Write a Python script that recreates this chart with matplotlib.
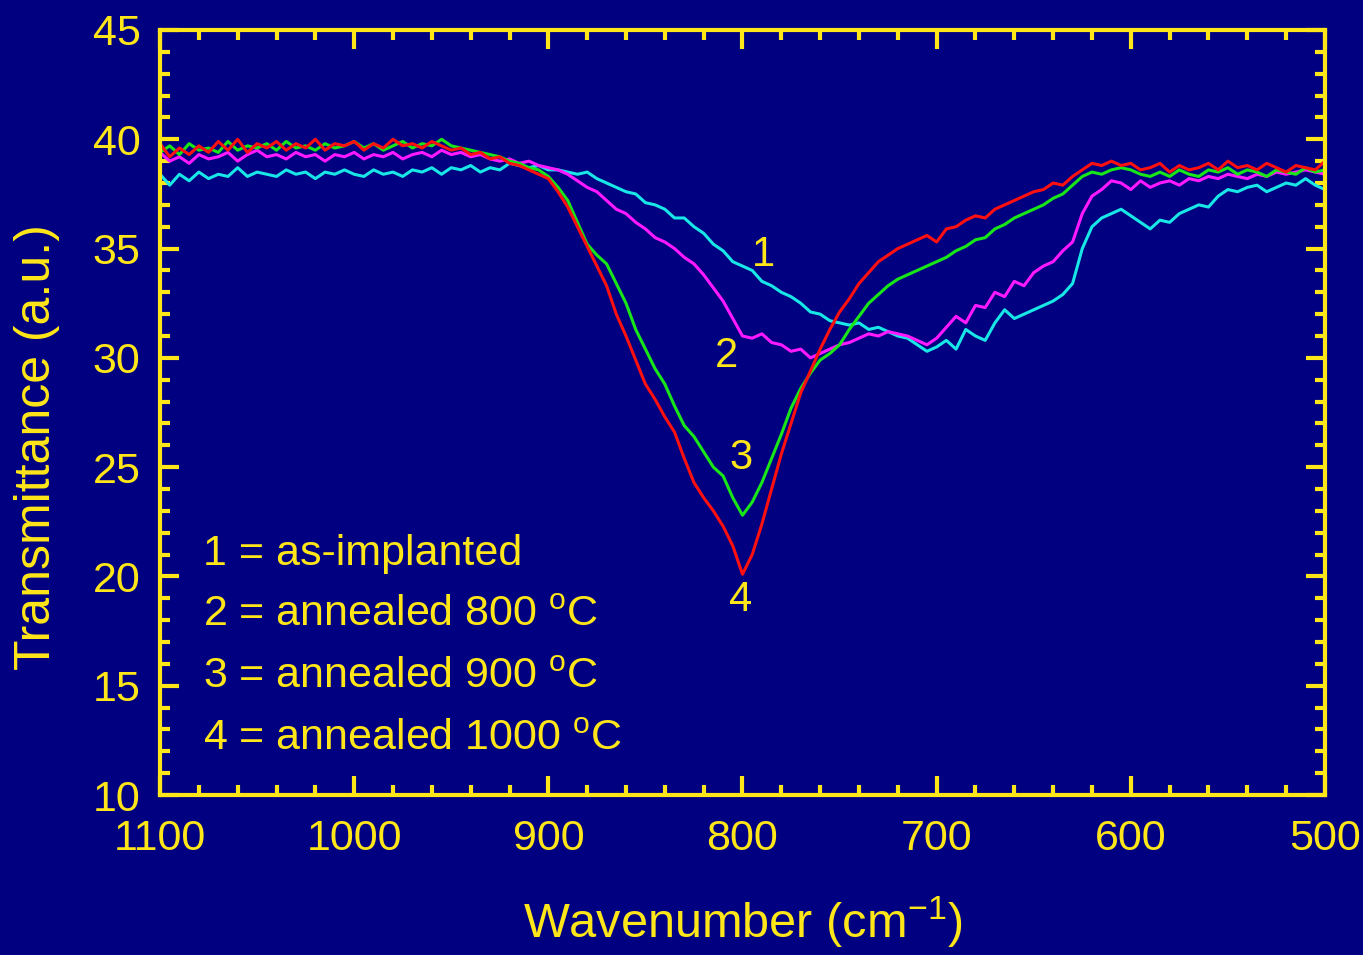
import numpy as np
import matplotlib
matplotlib.use("Agg")
import matplotlib.pyplot as plt
from matplotlib.ticker import MultipleLocator

plt.rcParams['font.family'] = ['Liberation Sans', 'DejaVu Sans']
plt.rcParams['mathtext.fontset'] = 'custom'
plt.rcParams['mathtext.rm'] = 'Liberation Sans'
plt.rcParams['mathtext.it'] = 'Liberation Sans'

# wavenumber grid (cm^-1), 1100 -> 500 in steps of 5
wavenumber = np.arange(1100, 499, -5)

# 1 = as-implanted
t_asimpl = [38.4, 37.9, 38.4, 38.1, 38.5, 38.2, 38.4, 38.3, 38.7, 38.3,
            38.5, 38.4, 38.3, 38.6, 38.4, 38.5, 38.2, 38.5, 38.4, 38.6,
            38.4, 38.3, 38.6, 38.4, 38.5, 38.3, 38.6, 38.5, 38.7, 38.4,
            38.7, 38.6, 38.8, 38.5, 38.7, 38.6, 38.9, 38.8, 38.7, 38.8,
            38.6, 38.6, 38.5, 38.4, 38.5, 38.2, 38.0, 37.8, 37.6, 37.5,
            37.1, 37.0, 36.8, 36.4, 36.4, 36.0, 35.7, 35.2, 34.9, 34.4,
            34.2, 34.0, 33.5, 33.3, 33.0, 32.8, 32.5, 32.1, 32.0, 31.7,
            31.6, 31.5, 31.6, 31.3, 31.4, 31.2, 31.0, 30.9, 30.6, 30.3,
            30.5, 30.8, 30.4, 31.3, 31.0, 30.8, 31.6, 32.2, 31.8, 32.0,
            32.2, 32.4, 32.6, 32.9, 33.4, 35.0, 36.0, 36.4, 36.6, 36.8,
            36.5, 36.2, 35.9, 36.3, 36.2, 36.6, 36.8, 37.0, 36.9, 37.4,
            37.7, 37.6, 37.8, 37.9, 37.6, 37.8, 38.0, 37.9, 38.2, 37.9,
            37.7]

# 2 = annealed 800 C
t_800 = [39.4, 39.0, 39.2, 38.9, 39.3, 39.1, 39.2, 39.4, 39.0, 39.3,
         39.5, 39.2, 39.3, 39.1, 39.4, 39.2, 39.3, 39.0, 39.3, 39.2,
         39.4, 39.1, 39.3, 39.2, 39.4, 39.1, 39.3, 39.4, 39.2, 39.5,
         39.3, 39.4, 39.2, 39.3, 39.1, 39.0, 39.1, 38.9, 39.0, 38.8,
         38.7, 38.6, 38.4, 38.1, 37.8, 37.6, 37.2, 36.8, 36.6, 36.2,
         35.9, 35.5, 35.3, 35.0, 34.6, 34.3, 33.8, 33.2, 32.6, 31.8,
         31.0, 30.9, 31.1, 30.7, 30.6, 30.3, 30.4, 30.0, 30.2, 30.4,
         30.6, 30.7, 30.9, 31.1, 31.0, 31.2, 31.1, 31.0, 30.8, 30.6,
         30.9, 31.4, 31.9, 31.6, 32.4, 32.3, 33.0, 32.8, 33.5, 33.3,
         33.9, 34.2, 34.4, 34.9, 35.3, 36.6, 37.4, 37.7, 38.1, 38.0,
         37.7, 38.1, 37.8, 38.0, 38.1, 37.9, 38.2, 38.1, 38.3, 38.2,
         38.4, 38.3, 38.2, 38.4, 38.3, 38.5, 38.4, 38.5, 38.6, 38.5,
         38.4]

# 3 = annealed 900 C
t_900 = [39.4, 39.7, 39.3, 39.8, 39.5, 39.6, 39.4, 39.9, 39.5, 39.7,
         39.6, 39.8, 39.5, 39.9, 39.6, 39.7, 39.5, 39.8, 39.6, 39.7,
         39.9, 39.6, 39.8, 39.5, 39.7, 39.9, 39.6, 39.8, 39.7, 40.0,
         39.7, 39.6, 39.5, 39.4, 39.3, 39.2, 39.0, 38.9, 38.7, 38.6,
         38.3, 37.8, 37.2, 36.2, 35.2, 34.7, 34.3, 33.4, 32.5, 31.3,
         30.4, 29.5, 28.8, 27.8, 26.9, 26.4, 25.7, 25.0, 24.6, 23.6,
         22.8, 23.4, 24.3, 25.4, 26.5, 27.7, 28.6, 29.3, 29.9, 30.2,
         30.6, 31.3, 31.9, 32.5, 32.9, 33.3, 33.6, 33.8, 34.0, 34.2,
         34.4, 34.6, 34.9, 35.1, 35.4, 35.5, 35.9, 36.1, 36.4, 36.6,
         36.8, 37.0, 37.3, 37.5, 37.9, 38.3, 38.5, 38.4, 38.6, 38.7,
         38.6, 38.4, 38.3, 38.5, 38.3, 38.6, 38.4, 38.3, 38.6, 38.5,
         38.7, 38.4, 38.6, 38.5, 38.3, 38.6, 38.5, 38.4, 38.7, 38.5,
         38.6]

# 4 = annealed 1000 C
t_1000 = [39.8, 39.2, 39.6, 39.3, 39.7, 39.4, 39.9, 39.5, 40.0, 39.4,
          39.8, 39.6, 39.9, 39.5, 39.8, 39.6, 40.0, 39.5, 39.8, 39.7,
          39.9, 39.5, 39.8, 39.6, 40.0, 39.7, 39.8, 39.6, 39.9, 39.7,
          39.5, 39.6, 39.3, 39.4, 39.1, 39.2, 38.9, 38.8, 38.6, 38.4,
          38.2, 37.6, 36.9, 36.0, 35.1, 34.2, 33.3, 32.0, 31.0, 29.9,
          28.8, 28.1, 27.3, 26.6, 25.4, 24.3, 23.6, 23.0, 22.3, 21.4,
          20.1, 21.0, 22.4, 24.0, 25.6, 27.0, 28.4, 29.4, 30.4, 31.3,
          32.1, 32.7, 33.4, 33.9, 34.4, 34.7, 35.0, 35.2, 35.4, 35.6,
          35.3, 35.9, 36.0, 36.3, 36.5, 36.4, 36.8, 37.0, 37.2, 37.4,
          37.6, 37.7, 38.0, 37.9, 38.3, 38.6, 38.9, 38.8, 39.0, 38.8,
          38.9, 38.6, 38.7, 38.9, 38.5, 38.8, 38.6, 38.7, 38.9, 38.6,
          39.0, 38.7, 38.8, 38.6, 38.9, 38.7, 38.5, 38.8, 38.7, 38.6,
          39.0]

series = [t_asimpl, t_800, t_900, t_1000]
colors = ['#19E6E6', '#FF19FF', '#19E619', '#FF1010']
curve_labels = ['1', '2', '3', '4']
label_pos = [(789, 34.7), (808, 30.1), (801, 25.4), (801, 18.9)]
legend_lines = ['1 = as-implanted',
                '2 = annealed 800 $^{\\mathrm{o}}$C',
                '3 = annealed 900 $^{\\mathrm{o}}$C',
                '4 = annealed 1000 $^{\\mathrm{o}}$C']

bg = '#000080'
yel = '#FFE619'

fig = plt.figure(figsize=(13.63, 9.55), dpi=100, facecolor=bg)
ax = fig.add_axes([0.1174, 0.1675, 0.8547, 0.8011])
ax.set_facecolor(bg)

for y, c in zip(series, colors):
    ax.plot(wavenumber, y, color=c, lw=2.2)

for t, (xp, yp) in zip(curve_labels, label_pos):
    ax.text(xp, yp, t, color=yel, fontsize=30, ha='center', va='center')

for i, s in enumerate(legend_lines):
    ax.text(1078, 21.05 - 2.83 * i, s, color=yel, fontsize=31, ha='left', va='center')

ax.set_xlim(1100, 500)
ax.set_ylim(10, 45)
ax.xaxis.set_major_locator(MultipleLocator(100))
ax.xaxis.set_minor_locator(MultipleLocator(20))
ax.yaxis.set_major_locator(MultipleLocator(5))
ax.yaxis.set_minor_locator(MultipleLocator(1))

for sp in ax.spines.values():
    sp.set_color(yel)
    sp.set_linewidth(3)
ax.tick_params(which='both', direction='in', top=True, right=True, colors=yel, width=3)
ax.tick_params(which='major', length=14, labelsize=31)
ax.tick_params(axis='x', which='major', pad=17)
ax.tick_params(axis='y', which='major', pad=14)
ax.tick_params(which='minor', length=7)

ax.set_xlabel('Wavenumber (cm$^{\\mathrm{-1}}$)', color=yel, fontsize=35, labelpad=26)
ax.set_ylabel('Transmittance (a.u.)', color=yel, fontsize=36)
ax.yaxis.set_label_coords(-0.086, 0.455)

fig.savefig('out.png', dpi=100, facecolor=bg)
